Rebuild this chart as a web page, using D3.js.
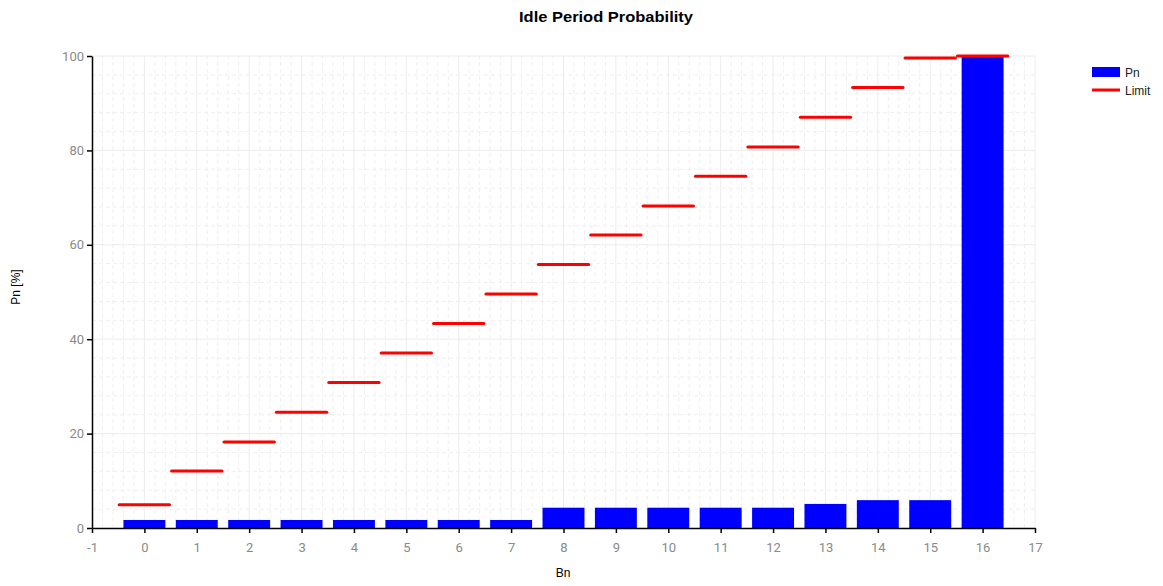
<!DOCTYPE html>
<html><head><meta charset="utf-8">
<script src="https://cdn.jsdelivr.net/npm/d3@7"></script>
<style>body{margin:0;background:#fff;} text{font-family:"Liberation Sans",Arial,sans-serif;}</style>
</head><body>
<svg id="c" width="1163" height="586"></svg>
<script>
const bins = [0,1,2,3,4,5,6,7,8,9,10,11,12,13,14,15,16];
const pn = [1.7,1.7,1.7,1.7,1.7,1.7,1.7,1.7,4.3,4.3,4.3,4.3,4.3,5.1,5.9,5.9,100];
const limit = [4.9,12.1,18.2,24.5,30.8,37.1,43.3,49.6,55.8,62.1,68.2,74.5,80.7,87.0,93.3,99.6,100];
const xTicks = d3.range(-1,18);
const yTicks = [0,20,40,60,80,100];

const svg = d3.select("#c");
const x = d3.scaleLinear().domain([-1,17]).range([92,1035]);
const y = d3.scaleLinear().domain([0,100]).range([528,56]);

// minor grid
const g = svg.append("g");
g.selectAll(".vm").data(d3.range(-1,17.001,0.2).filter(v=>Math.abs(v-Math.round(v))>1e-6))
 .join("line").attr("x1",d=>x(d)).attr("x2",d=>x(d)).attr("y1",y(0)).attr("y2",y(100))
 .attr("stroke","#efefef").attr("stroke-dasharray","4,3");
g.selectAll(".hm").data(d3.range(4,100,4).filter(v=>v%20!==0))
 .join("line").attr("y1",d=>y(d)).attr("y2",d=>y(d)).attr("x1",x(-1)).attr("x2",x(17))
 .attr("stroke","#efefef").attr("stroke-dasharray","4,3");
g.selectAll(".vM").data(xTicks.slice(1))
 .join("line").attr("x1",d=>x(d)).attr("x2",d=>x(d)).attr("y1",y(0)).attr("y2",y(100))
 .attr("stroke","#ececec");
g.selectAll(".hM").data(yTicks.slice(1))
 .join("line").attr("y1",d=>y(d)).attr("y2",d=>y(d)).attr("x1",x(-1)).attr("x2",x(17))
 .attr("stroke","#ececec");

// bars
svg.selectAll(".bar").data(bins).join("rect")
 .attr("x",d=>x(d-0.4)).attr("width",x(0.4)-x(-0.4))
 .attr("y",(d,i)=>y(pn[i])).attr("height",(d,i)=>y(0)-y(pn[i]))
 .attr("fill","#0000ff");

// limit lines
svg.selectAll(".lim").data(bins).join("line")
 .attr("x1",d=>x(d-0.5)+1).attr("x2",d=>x(d+0.5)-1)
 .attr("y1",(d,i)=>y(limit[i])).attr("y2",(d,i)=>y(limit[i]))
 .attr("stroke","#ff0000").attr("stroke-width",3).attr("stroke-linecap","round");

// axes
const xa = svg.append("g").attr("transform",`translate(0,${y(0)})`)
 .call(d3.axisBottom(x).tickValues(xTicks).tickSize(5).tickSizeOuter(0).tickFormat(d=>String(d)));
const ya = svg.append("g").attr("transform",`translate(${x(-1)},0)`)
 .call(d3.axisLeft(y).tickValues(yTicks).tickSize(5).tickSizeOuter(0).tickFormat(d=>String(d)));
[xa,ya].forEach(a=>{
  a.select(".domain").attr("stroke","#000").attr("stroke-width",1.5);
  a.selectAll(".tick line").attr("stroke","#000").attr("stroke-width",1.5);
  a.selectAll(".tick text").attr("fill","#8a8a8a").style("font-size","13px").style("font-family","Roboto, 'Liberation Sans', sans-serif");
});
xa.selectAll(".tick text").attr("dy","1.2em");

// titles
svg.append("text").attr("x",606).attr("y",22).attr("text-anchor","middle")
 .attr("textLength",174).attr("lengthAdjust","spacingAndGlyphs")
 .style("font-size","15px").style("font-weight","bold").text("Idle Period Probability");
svg.append("text").attr("x",563).attr("y",577).attr("text-anchor","middle")
 .style("font-size","12px").text("Bn");
svg.append("text").attr("transform","translate(20,287) rotate(-90)").attr("text-anchor","middle")
 .style("font-size","12px").text("Pn [%]");

// legend
const lg = svg.append("g");
lg.append("rect").attr("x",1092).attr("y",67).attr("width",28).attr("height",10).attr("fill","#0000ff");
lg.append("text").attr("x",1125).attr("y",77).style("font-size","12px").attr("fill","#222").text("Pn");
lg.append("line").attr("x1",1092).attr("x2",1120).attr("y1",90).attr("y2",90).attr("stroke","#ff0000").attr("stroke-width",3);
lg.append("text").attr("x",1125).attr("y",95).style("font-size","12px").attr("fill","#222").text("Limit");
</script>
</body></html>
